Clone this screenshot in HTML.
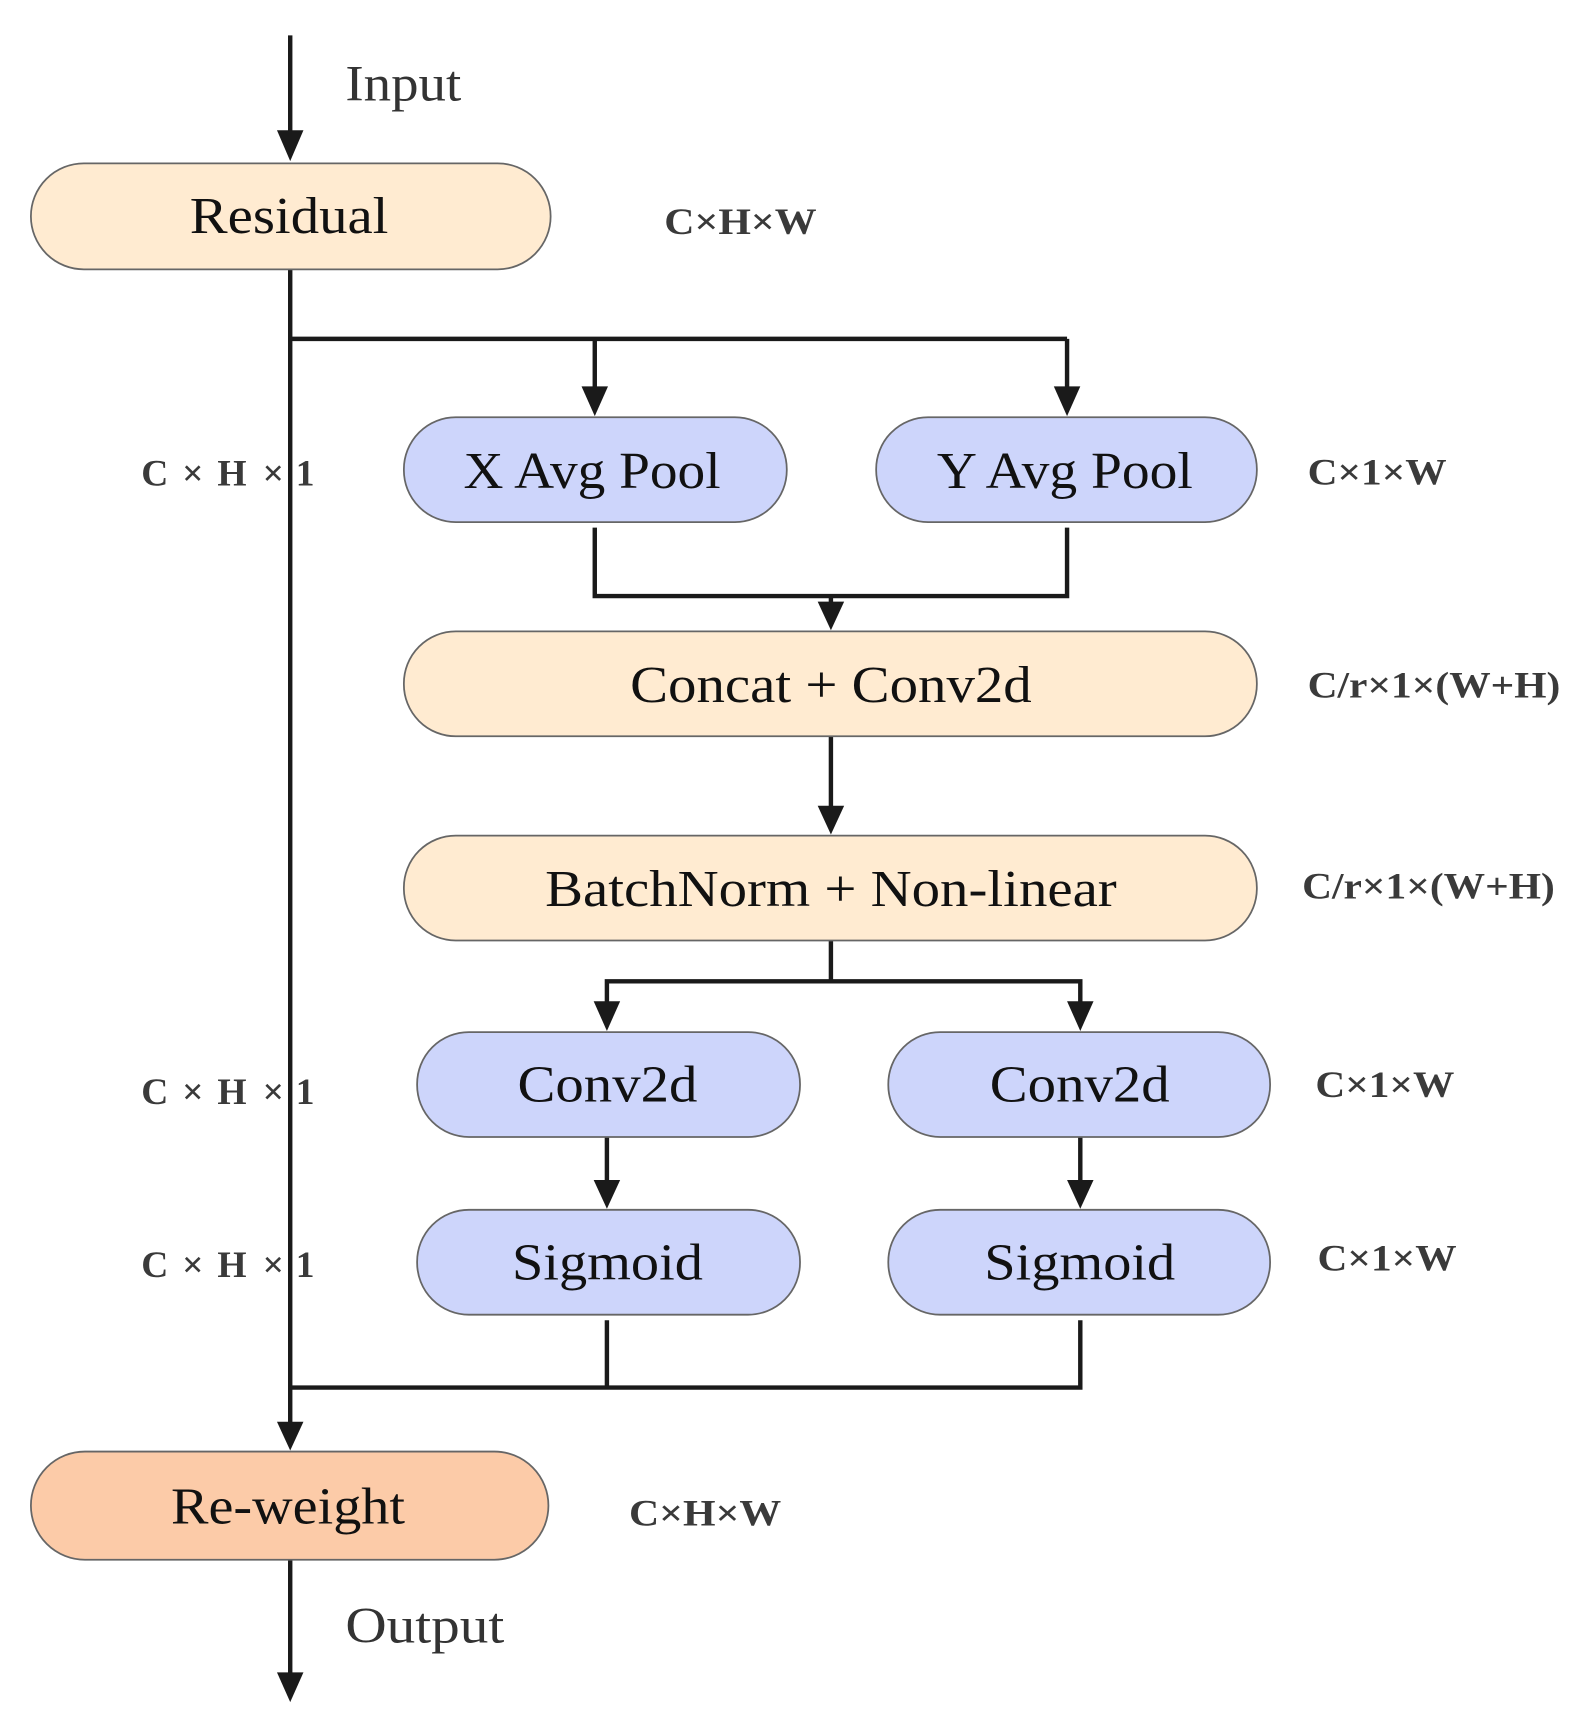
<!DOCTYPE html>
<html><head><meta charset="utf-8"><style>html,body{margin:0;padding:0;background:#fff}svg{display:block}</style></head>
<body>
<svg width="1589" height="1722" viewBox="0 0 1440 1560" preserveAspectRatio="none" xmlns="http://www.w3.org/2000/svg" font-family="'Liberation Serif', serif">
<g stroke="#1a1a1a" stroke-width="4" fill="none">
<line x1="263" y1="32" x2="263" y2="120"/>
<line x1="263" y1="244" x2="263" y2="1290"/>
<polyline points="263,307 967,307"/>
<line x1="539" y1="307" x2="539" y2="352"/>
<line x1="967" y1="307" x2="967" y2="352"/>
<polyline points="539,478 539,540 967,540 967,478"/>
<line x1="753" y1="540" x2="753" y2="548"/>
<line x1="753" y1="667" x2="753" y2="732"/>
<polyline points="753,852 753,889"/>
<polyline points="550,910 550,889 979,889 979,910"/>
<line x1="550" y1="1030" x2="550" y2="1072"/>
<line x1="979" y1="1030" x2="979" y2="1072"/>
<polyline points="550,1196 550,1257"/>
<polyline points="979,1196 979,1257 263,1257"/>
<line x1="263" y1="1413" x2="263" y2="1518"/>
</g>
<g fill="#1a1a1a">
<polygon points="251,118 275,118 263,146"/>
<polygon points="527,350 551,350 539,377"/>
<polygon points="955,350 979,350 967,377"/>
<polygon points="741,545 765,545 753,571"/>
<polygon points="741,730 765,730 753,756"/>
<polygon points="538,907 562,907 550,934"/>
<polygon points="967,907 991,907 979,934"/>
<polygon points="538,1069 562,1069 550,1095"/>
<polygon points="967,1069 991,1069 979,1095"/>
<polygon points="251,1288 275,1288 263,1314"/>
<polygon points="251,1515 275,1515 263,1542"/>
</g>
<g stroke="#666" stroke-width="1.6">
<rect x="28" y="148" width="471" height="96" rx="48" fill="#FFEBD1"/>
<rect x="366" y="378" width="347" height="95" rx="47" fill="#CDD5FB"/>
<rect x="794" y="378" width="345" height="95" rx="47" fill="#CDD5FB"/>
<rect x="366" y="572" width="773" height="95" rx="47" fill="#FFEBD1"/>
<rect x="366" y="757" width="773" height="95" rx="47" fill="#FFEBD1"/>
<rect x="378" y="935" width="347" height="95" rx="47" fill="#CDD5FB"/>
<rect x="805" y="935" width="346" height="95" rx="47" fill="#CDD5FB"/>
<rect x="378" y="1096" width="347" height="95" rx="47" fill="#CDD5FB"/>
<rect x="805" y="1096" width="346" height="95" rx="47" fill="#CDD5FB"/>
<rect x="28" y="1315" width="469" height="98" rx="49" fill="#FCCBA8"/>
</g>
<g fill="#111" font-size="47" lengthAdjust="spacingAndGlyphs">
<text x="172" y="211" textLength="180" lengthAdjust="spacingAndGlyphs">Residual</text>
<text x="420" y="442" textLength="233" lengthAdjust="spacingAndGlyphs">X Avg Pool</text>
<text x="849" y="442" textLength="232" lengthAdjust="spacingAndGlyphs">Y Avg Pool</text>
<text x="571" y="636" textLength="364" lengthAdjust="spacingAndGlyphs">Concat + Conv2d</text>
<text x="494" y="821" textLength="518" lengthAdjust="spacingAndGlyphs">BatchNorm + Non-linear</text>
<text x="469" y="998" textLength="163" lengthAdjust="spacingAndGlyphs">Conv2d</text>
<text x="897" y="998" textLength="163" lengthAdjust="spacingAndGlyphs">Conv2d</text>
<text x="464" y="1159" textLength="173" lengthAdjust="spacingAndGlyphs">Sigmoid</text>
<text x="892" y="1159" textLength="173" lengthAdjust="spacingAndGlyphs">Sigmoid</text>
<text x="155" y="1380" textLength="212" lengthAdjust="spacingAndGlyphs">Re-weight</text>
</g>
<g fill="#333" font-size="46">
<text x="313" y="91" textLength="105" lengthAdjust="spacingAndGlyphs">Input</text>
<text x="313" y="1488" textLength="144" lengthAdjust="spacingAndGlyphs">Output</text>
</g>
<g fill="#3a3a3a" font-size="34" font-weight="bold">
<text x="602" y="212" textLength="138" lengthAdjust="spacingAndGlyphs">C×H×W</text>
<text y="440"><tspan x="128">C</tspan><tspan x="165">×</tspan><tspan x="197">H</tspan><tspan x="238">×</tspan><tspan x="268">1</tspan></text>
<text x="1185" y="439" textLength="126" lengthAdjust="spacingAndGlyphs">C×1×W</text>
<text x="1185" y="632" textLength="229" lengthAdjust="spacingAndGlyphs">C/r×1×(W+H)</text>
<text x="1180" y="814" textLength="229" lengthAdjust="spacingAndGlyphs">C/r×1×(W+H)</text>
<text y="1000"><tspan x="128">C</tspan><tspan x="165">×</tspan><tspan x="197">H</tspan><tspan x="238">×</tspan><tspan x="268">1</tspan></text>
<text x="1192" y="994" textLength="126" lengthAdjust="spacingAndGlyphs">C×1×W</text>
<text y="1157"><tspan x="128">C</tspan><tspan x="165">×</tspan><tspan x="197">H</tspan><tspan x="238">×</tspan><tspan x="268">1</tspan></text>
<text x="1194" y="1151" textLength="126" lengthAdjust="spacingAndGlyphs">C×1×W</text>
<text x="570" y="1382" textLength="138" lengthAdjust="spacingAndGlyphs">C×H×W</text>
</g>
</svg>
</body></html>
